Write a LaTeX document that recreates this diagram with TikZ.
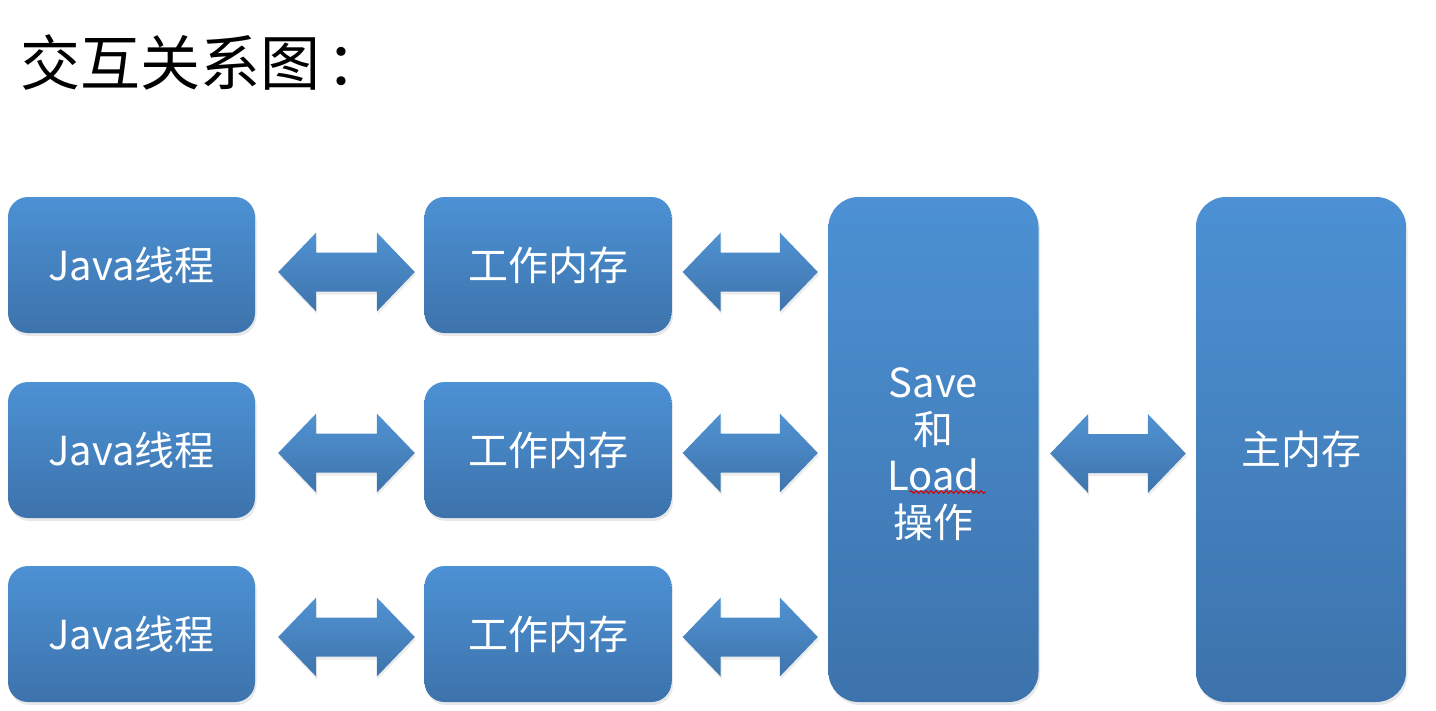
\documentclass[tikz,border=0pt]{standalone}
\usepackage{fontspec}
\setmainfont{Noto Sans CJK SC}
\usetikzlibrary{calc,shadows,decorations.pathmorphing}
\definecolor{boxtop}{RGB}{76,145,212}
\definecolor{boxbot}{RGB}{61,115,172}
\definecolor{arrtop}{RGB}{80,146,210}
\definecolor{arrbot}{RGB}{62,116,172}
\tikzset{
  blockbox/.style={rectangle, rounded corners=20pt, top color=boxtop, bottom color=boxbot,
    draw=none, text=white, font=\fontsize{40}{46}\selectfont, align=center, inner sep=0pt,
    drop shadow={opacity=0.18, shadow xshift=1.5pt, shadow yshift=-3pt}},
  smallbox/.style={blockbox, minimum width=247pt, minimum height=136pt},
  tallbox/.style={blockbox, rounded corners=30pt, minimum width=210pt, minimum height=505pt},
  arrowfill/.style={top color=arrtop, bottom color=arrbot, draw=none,
    drop shadow={opacity=0.15, shadow xshift=1pt, shadow yshift=-3pt}},
}
% double arrow between two named nodes/coordinates:
% #1 left node anchor, #2 right node anchor, #3 left gap, #4 right gap, #5 vertical offset (down)
\newcommand\dblarrow[5]{%
  \path let \p1=($(#1)+(#3,#5)$), \p2=($(#2)+(-#4,#5)$) in
    [arrowfill] (\x1,\y1)
    -- (\x1+38pt,\y1-39.5pt) -- (\x1+38pt,\y1-19.5pt)
    -- (\x2-38pt,\y1-19.5pt) -- (\x2-38pt,\y1-39.5pt)
    -- (\x2,\y1)
    -- (\x2-38pt,\y1+39.5pt) -- (\x2-38pt,\y1+19.5pt)
    -- (\x1+38pt,\y1+19.5pt) -- (\x1+38pt,\y1+39.5pt) -- cycle;%
}
\begin{document}
\begin{tikzpicture}[x=1pt,y=-1pt]
\useasboundingbox (0,0) rectangle (1436,710);
\fill[white] (0,0) rectangle (1436,710);

\node[anchor=west, inner sep=0pt, font=\fontsize{60}{70}\selectfont] (title) at (20,62) {交互关系图\hspace{6pt}：};

\node[smallbox] (j1) at (131.5,265) {Java线程};
\node[smallbox] (j2) at (131.5,450) {Java线程};
\node[smallbox] (j3) at (131.5,634) {Java线程};

\node[smallbox] (w1) at (548,265) {工作内存};
\node[smallbox] (w2) at (548,450) {工作内存};
\node[smallbox] (w3) at (548,634) {工作内存};

\node[tallbox] (sl) at (933.5,449.5) {\raisebox{-9pt}[\height][\depth]{\begin{tabular}{@{}c@{}}Save\\和\\Load\\操作\end{tabular}}};
\node[tallbox] (mm) at (1301,449.5) {主内存};

\coordinate (s1) at (sl.west |- j1);
\coordinate (s2) at (sl.west |- j2);
\coordinate (s3) at (sl.west |- j3);

\dblarrow{j1.east}{w1.west}{23}{9.5}{7}
\dblarrow{j2.east}{w2.west}{23}{9.5}{3}
\dblarrow{j3.east}{w3.west}{23}{9.5}{3}

\dblarrow{w1.east}{s1}{11}{10.5}{7}
\dblarrow{w2.east}{s2}{11}{10.5}{3}
\dblarrow{w3.east}{s3}{11}{10.5}{3}

\dblarrow{sl.east}{mm.west}{11.5}{10}{4}

% spell-check underline under "Load"
\draw[red!85!black, line width=1.1pt, decorate,
  decoration={snake, segment length=5pt, amplitude=1.3pt}]
  ($(sl.center)+(-24,42.5)$) -- ($(sl.center)+(52,42.5)$);
\end{tikzpicture}
\end{document}
